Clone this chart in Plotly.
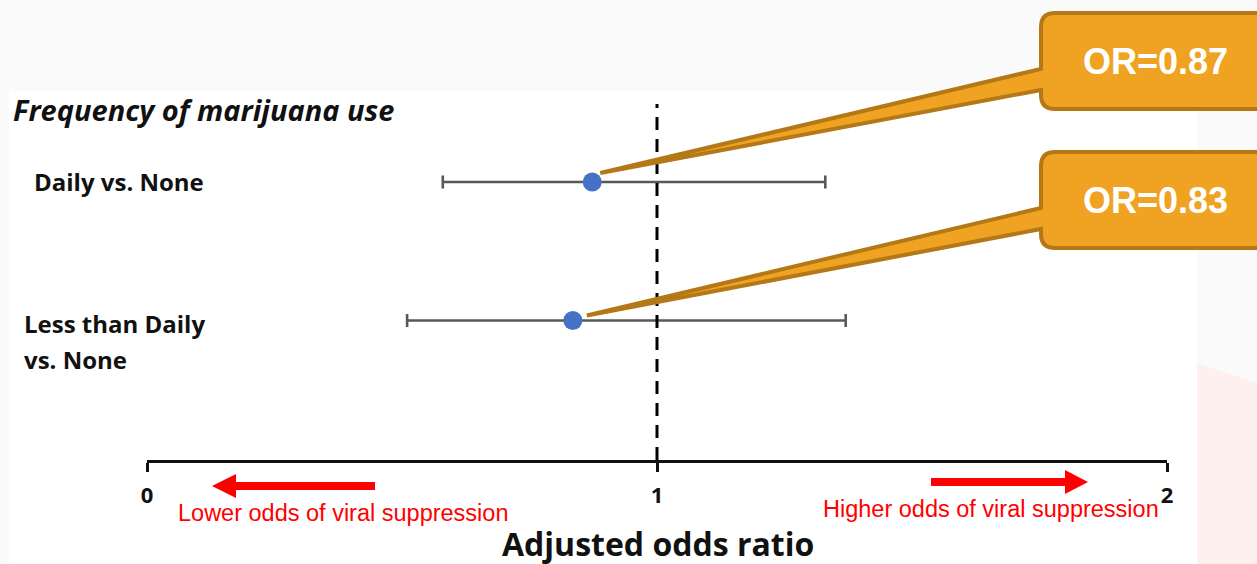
import plotly.graph_objects as go

# ---------------- data ----------------
categories = [["Daily vs. None"], ["Less than Daily", "vs. None"]]
odds_ratio = [0.873, 0.835]
ci_low = [0.58, 0.51]
ci_high = [1.33, 1.37]
callout_text = ["OR=0.87", "OR=0.83"]
x_ticks = [0, 1, 2]
x_tick_text = ["0", "1", "2"]
reference_value = 1
section_title = "Frequency of marijuana use"
axis_title = "Adjusted odds ratio"
lower_text = "Lower odds of viral suppression"
higher_text = "Higher odds of viral suppression"

# ---------------- layout geometry ----------------
W, H = 1257, 564
ML, MR, MT, MB = 147, 90, 91, 104
XR = [0, 2]
YR = [2.007, -0.657]
PW, PH = W - ML - MR, H - MT - MB


def px_x(v):
    return ML + (v - XR[0]) / (XR[1] - XR[0]) * PW


def px_y(v):
    return (H - MB) - (v - YR[0]) / (YR[1] - YR[0]) * PH


def pap_x(p):
    return (p - ML) / PW


def pap_y(p):
    return (H - MB - p) / PH


def P(px, py):
    return f"{pap_x(px):.5f},{pap_y(py):.5f}"


rows = list(range(len(categories)))
FONT_CAL = "Open Sans"
FONT_ARIAL = "Liberation Sans, Arial"

fig = go.Figure()

fig.add_trace(go.Scatter(
    x=odds_ratio, y=rows, mode="markers",
    marker=dict(size=19, color="#4472c4"),
    error_x=dict(type="data", symmetric=False,
                 array=[h - o for h, o in zip(ci_high, odds_ratio)],
                 arrayminus=[o - l for o, l in zip(odds_ratio, ci_low)],
                 color="#595959", thickness=2.6, width=6.5),
    cliponaxis=False, hoverinfo="skip", showlegend=False,
))

shapes = []
annotations = []

# backgrounds
shapes.append(dict(type="rect", xref="paper", yref="paper", layer="below",
                   x0=pap_x(9), x1=pap_x(1197), y0=pap_y(H + 5), y1=pap_y(91),
                   fillcolor="white", line=dict(width=0)))
shapes.append(dict(type="path", xref="paper", yref="paper", layer="below",
                   path=f"M{P(1197,363)} L{P(1270,387)} L{P(1270,H+5)} L{P(1197,H+5)} Z",
                   fillcolor="#fdf0ee", line=dict(width=0)))

# reference dashed line
shapes.append(dict(type="line", xref="x", yref="paper",
                   x0=reference_value, x1=reference_value, y0=0, y1=pap_y(104),
                   line=dict(color="black", width=3, dash="13px,9px")))

# red arrows
shapes.append(dict(type="path", xref="paper", yref="paper",
                   path=f"M{P(212,486)} L{P(236,474)} L{P(236,482)} L{P(375,482)} L{P(375,490)} L{P(236,490)} L{P(236,498)} Z",
                   fillcolor="#ff0000", line=dict(width=0)))
shapes.append(dict(type="path", xref="paper", yref="paper",
                   path=f"M{P(1088,482)} L{P(1065,470)} L{P(1065,478)} L{P(931,478)} L{P(931,486)} L{P(1065,486)} L{P(1065,494)} Z",
                   fillcolor="#ff0000", line=dict(width=0)))

# callouts
box_tops = [13, 152]
tip_off = [(8, -9), (14, -5)]
for i, r in enumerate(rows):
    L, T, R, B, rad = 1041, box_tops[i], 1275, box_tops[i] + 96, 14
    y1, y2 = T + 56, T + 77
    tx = px_x(odds_ratio[i]) + tip_off[i][0]
    ty = px_y(r) + tip_off[i][1]
    path = (f"M{P(L+rad,T)} L{P(R,T)} L{P(R,B)} L{P(L+rad,B)} "
            f"Q{P(L,B)} {P(L,B-rad)} L{P(L,y2)} L{P(tx,ty)} L{P(L,y1)} "
            f"L{P(L,T+rad)} Q{P(L,T)} {P(L+rad,T)} Z")
    shapes.append(dict(type="path", xref="paper", yref="paper", path=path,
                       fillcolor="#f0a322", line=dict(color="#b47816", width=4)))
    annotations.append(dict(xref="paper", yref="paper", x=pap_x(1155), y=pap_y(T + 48),
                            text=f"<b>{callout_text[i]}</b>", showarrow=False,
                            xanchor="center", yanchor="middle",
                            font=dict(family=FONT_ARIAL, size=36, color="white")))

# row labels
label_x = [32, 22]
label_dy = [-1, 3]
for i, r in enumerate(rows):
    lines = categories[i]
    for j, line in enumerate(lines):
        py = px_y(r) + label_dy[i] + j * 36
        annotations.append(dict(xref="paper", yref="paper", x=pap_x(label_x[i]), y=pap_y(py),
                                text=f"<b>{line}</b>", showarrow=False,
                                xanchor="left", yanchor="middle",
                                font=dict(family=FONT_CAL, size=24, color="#111111")))

# section title
annotations.append(dict(xref="paper", yref="paper", x=pap_x(11), y=pap_y(110),
                        text=f"<b><i>{section_title}</i></b>", showarrow=False,
                        xanchor="left", yanchor="middle",
                        font=dict(family=FONT_CAL, size=29, color="#111111")))

# axis title
annotations.append(dict(xref="paper", yref="paper", x=pap_x(658), y=pap_y(543),
                        text=f"<b>{axis_title}</b>", showarrow=False,
                        xanchor="center", yanchor="middle",
                        font=dict(family=FONT_CAL, size=32, color="#111111")))

# red texts
annotations.append(dict(xref="paper", yref="paper", x=pap_x(176), y=pap_y(513),
                        text=lower_text, showarrow=False, xanchor="left", yanchor="middle",
                        font=dict(family=FONT_ARIAL, size=23.5, color="#ff0000")))
annotations.append(dict(xref="paper", yref="paper", x=pap_x(821), y=pap_y(509),
                        text=higher_text, showarrow=False, xanchor="left", yanchor="middle",
                        font=dict(family=FONT_ARIAL, size=23.5, color="#ff0000")))

fig.update_layout(
    width=W, height=H,
    margin=dict(l=ML, r=MR, t=MT, b=MB, pad=0),
    paper_bgcolor="#fafafa", plot_bgcolor="rgba(0,0,0,0)",
    shapes=shapes, annotations=annotations,
    showlegend=False,
    xaxis=dict(range=XR, tickvals=x_ticks, ticktext=[f"<b>{t}</b>" for t in x_tick_text],
               showgrid=False, zeroline=False, showline=True, linecolor="#111111", linewidth=2.6,
               ticks="outside", ticklen=9, tickwidth=2.6, tickcolor="#111111",
               tickfont=dict(family=FONT_CAL, size=22, color="#111111"),
               ticklabelstandoff=5, fixedrange=True),
    yaxis=dict(range=YR, visible=False, fixedrange=True),
)

fig.write_html("out.html", config={"displayModeBar": False},
               post_script="document.body.style.margin='0px';")
